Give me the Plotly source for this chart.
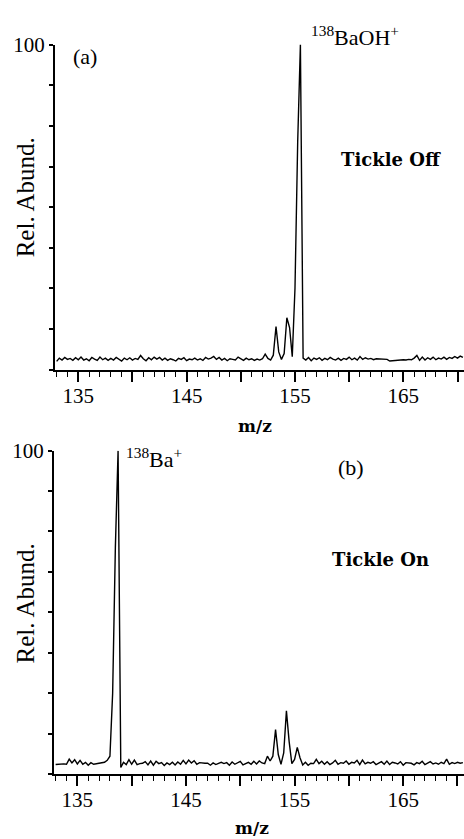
import numpy as np
import plotly.graph_objects as go

# m/z sampling grid (133.0 .. 170.5, step 0.25)
mz = [round(133.0 + 0.25 * i, 2) for i in range(151)]

# (a) Tickle Off  - relative abundance
abund_off = [
    2.6, 3.6, 3.0, 3.8, 3.2, 3.5, 2.9, 3.7, 3.1, 3.9,
    3.0, 3.4, 2.8, 3.8, 3.3, 2.9, 3.9, 3.1, 3.6, 2.9,
    3.5, 3.0, 3.8, 3.2, 2.7, 3.6, 3.1, 3.7, 3.0, 3.5,
    3.2, 4.4, 3.4, 2.8, 3.7, 3.1, 3.9, 3.3, 3.8, 3.0,
    3.6, 2.9, 3.4, 3.1, 2.7, 3.5, 3.2, 3.7, 2.8, 3.3,
    3.1, 3.6, 3.0, 3.4, 2.9, 3.8, 3.3, 3.6, 4.1, 3.2,
    3.8, 3.0, 3.5, 2.8, 3.4, 3.2, 3.0, 3.9, 3.3, 2.9,
    3.6, 3.1, 3.4, 2.9, 3.3, 3.0, 3.4, 4.8, 3.5, 3.0,
    4.5, 13.3, 5.5, 3.2, 5.0, 16.0, 13.0, 4.0, 25.0, 70.0,
    100.0, 3.6, 3.0, 3.8, 2.8, 3.6, 3.2, 3.7, 2.9, 3.5,
    3.1, 3.8, 3.3, 3.0, 3.6, 2.9, 3.5, 3.2, 3.9, 3.1,
    3.6, 3.0, 4.1, 3.2, 3.7, 3.3, 3.5, 3.1, 3.4, 3.3,
    3.2, 3.3, 3.2, 2.7, 2.8, 2.8, 3.0, 3.0, 3.1, 3.0,
    3.2, 3.1, 3.6, 4.4, 2.9, 3.9, 3.0, 3.7, 3.2, 3.9,
    3.1, 3.6, 3.3, 3.9, 3.2, 3.8, 3.5, 4.1, 3.6, 4.2,
    3.8,
]

# (b) Tickle On - relative abundance
abund_on = [
    2.9, 3.0, 3.0, 3.1, 3.0, 4.6, 3.4, 4.4, 3.1, 4.2,
    3.0, 3.6, 2.7, 3.5, 3.0, 3.2, 3.3, 3.4, 3.6, 4.2,
    5.5, 25.0, 70.0, 100.0, 2.0, 3.6, 2.9, 4.4, 3.0, 4.3,
    2.9, 3.2, 3.3, 3.8, 2.8, 4.0, 2.7, 3.9, 3.2, 3.5,
    2.6, 3.4, 2.9, 3.6, 2.8, 3.7, 3.0, 4.2, 3.1, 4.3,
    3.4, 4.1, 3.0, 3.5, 3.3, 3.3, 3.3, 2.7, 3.4, 2.9,
    3.3, 3.6, 3.2, 3.5, 2.7, 3.7, 3.0, 3.4, 3.9, 2.8,
    3.3, 3.6, 3.0, 3.9, 3.1, 4.0, 3.4, 3.2, 5.5, 4.0,
    5.5, 13.7, 6.0, 3.0, 6.5, 19.5, 10.0, 3.2, 4.5, 8.2,
    5.0, 2.8, 3.6, 2.7, 3.3, 3.2, 4.5, 3.2, 3.9, 3.0,
    3.8, 2.9, 3.4, 4.2, 3.0, 3.5, 3.3, 4.0, 3.0, 3.6,
    3.4, 4.2, 2.9, 4.3, 3.1, 3.6, 3.3, 3.8, 2.9, 3.4,
    3.8, 3.0, 4.0, 2.9, 3.6, 3.4, 3.1, 3.8, 2.7, 3.5,
    3.3, 3.3, 2.8, 3.5, 3.2, 3.9, 2.9, 3.4, 3.8, 3.1,
    3.4, 3.0, 3.6, 3.2, 4.6, 3.0, 3.5, 3.2, 3.6, 3.3,
    3.5,
]

x_major_ticks = [135, 140, 145, 150, 155, 160, 165, 170]
x_major_text = ["135", "", "145", "", "155", "", "165", ""]
y_ticks = [0, 12.5, 25, 37.5, 50, 62.5, 75, 87.5, 100]
y_text = ["", "", "", "", "", "", "", "", "100"]

W, H = 464, 839
SERIF = "Liberation Serif, Times New Roman, serif"
BOLD = "DejaVu Serif, serif"

fig = go.Figure()
fig.add_trace(go.Scatter(x=mz, y=abund_off, mode="lines", xaxis="x", yaxis="y",
                         line=dict(color="black", width=1.4), showlegend=False))
fig.add_trace(go.Scatter(x=mz, y=abund_on, mode="lines", xaxis="x2", yaxis="y2",
                         line=dict(color="black", width=1.4), showlegend=False))

def px_x(p):
    return p / W

def px_y(p):
    return 1 - p / H

xcommon = dict(range=[132.85, 170.6], tickvals=x_major_ticks, ticktext=x_major_text,
               ticks="outside", ticklen=10, tickwidth=1.5, tickcolor="black",
               ticklabelstandoff=-4,
               showline=True, linecolor="black", linewidth=2, showgrid=False,
               zeroline=False, tickfont=dict(family=SERIF, size=21, color="black"),
               minor=dict(dtick=1, ticks="outside", ticklen=5, tickwidth=1.2,
                          tickcolor="black", showgrid=False))
ycommon = dict(range=[0, 100], tickvals=y_ticks, ticktext=y_text,
               ticks="outside", ticklen=4, tickwidth=1.5, tickcolor="black",
               showline=True, linecolor="black", linewidth=2, showgrid=False,
               zeroline=False, tickfont=dict(family=SERIF, size=21, color="black"))

fig.update_layout(
    width=W, height=H,
    margin=dict(l=0, r=0, t=0, b=0),
    paper_bgcolor="white", plot_bgcolor="white",
    xaxis=dict(domain=[px_x(55), 1], anchor="y", **xcommon),
    yaxis=dict(domain=[px_y(363), px_y(33)], anchor="x", **ycommon),
    xaxis2=dict(domain=[px_x(54), 1], anchor="y2", **xcommon),
    yaxis2=dict(domain=[px_y(773), px_y(445)], anchor="x2", **ycommon),
)

ann = [
    dict(text="(a)", x=85, y=45, font=dict(family=SERIF, size=22)),
    dict(text="<sup>138</sup>BaOH<sup>+</sup>", x=355, y=24, font=dict(family=SERIF, size=22)),
    dict(text="<b>Tickle Off</b>", x=391, y=150, font=dict(family=BOLD, size=18)),
    dict(text="Rel. Abund.", x=25, y=188, font=dict(family=SERIF, size=25), textangle=-90),
    dict(text="<b>m/z</b>", x=255, y=420, font=dict(family=BOLD, size=17)),
    dict(text="<sup>138</sup>Ba<sup>+</sup>", x=154, y=452, font=dict(family=SERIF, size=22)),
    dict(text="(b)", x=351, y=462, font=dict(family=SERIF, size=22)),
    dict(text="<b>Tickle On</b>", x=380, y=555, font=dict(family=BOLD, size=18)),
    dict(text="Rel. Abund.", x=25, y=600, font=dict(family=SERIF, size=25), textangle=-90),
    dict(text="<b>m/z</b>", x=252, y=828, font=dict(family=BOLD, size=17)),
]
for a in ann:
    fig.add_annotation(text=a["text"], x=px_x(a["x"]), y=px_y(a["y"]),
                       xref="paper", yref="paper", showarrow=False,
                       xanchor="center", yanchor="middle",
                       textangle=a.get("textangle", 0),
                       font=dict(color="black", **a["font"]))

fig.write_html("out.html")
